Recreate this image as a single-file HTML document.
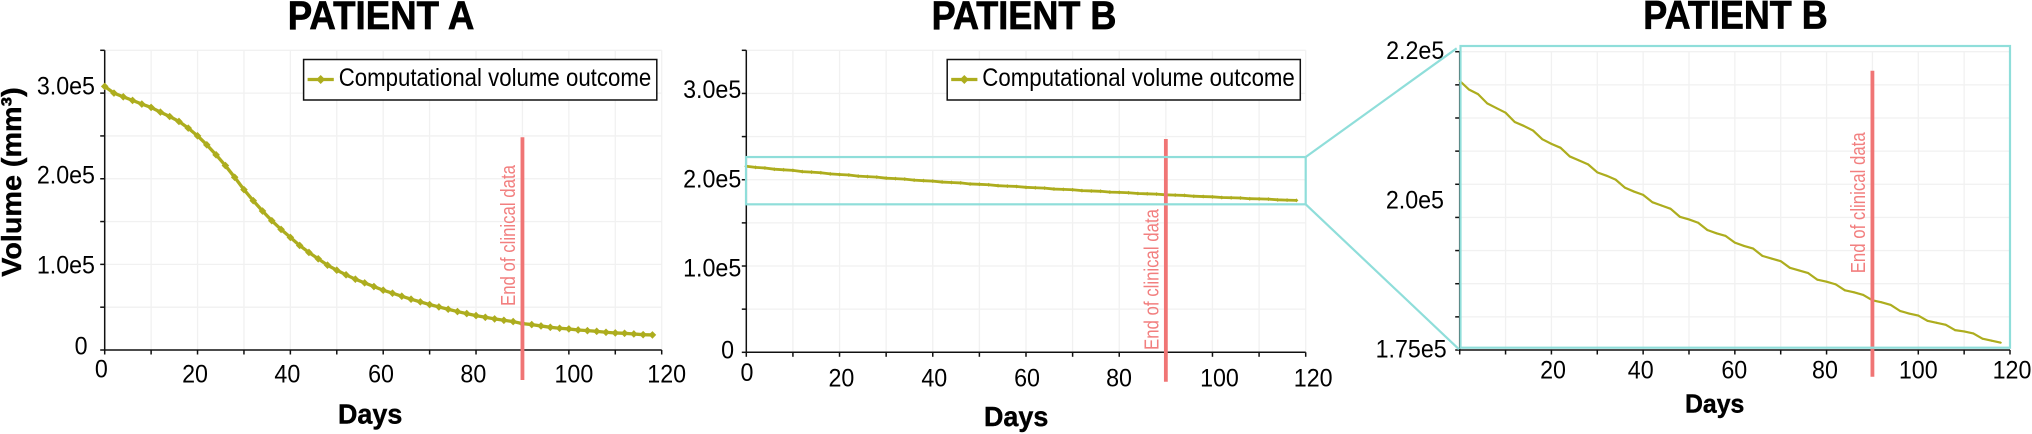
<!DOCTYPE html>
<html lang="en">
<head>
<meta charset="utf-8">
<title>Patient volume charts</title>
<style>
html,body{margin:0;padding:0;background:#fff;}
svg{display:block;font-family:"Liberation Sans",sans-serif;}
</style>
</head>
<body>
<svg id="figure" xmlns="http://www.w3.org/2000/svg" width="2032" height="434" viewBox="0 0 2032 434">
<rect x="0" y="0" width="2032" height="434" fill="#fff"/>
</svg>
<script>
const days = [0,2,4,6,8,10,12,14,16,18,20,22,24,26,28,30,32,34,36,38,40,42,44,46,48,50,52,54,56,58,60,62,64,66,68,70,72,74,76,78,80,82,84,86,88,90,92,94,96,98,100,102,104,106,108,110,112,114,116,118];
const volumeA = [307800,300000,295700,291500,287200,283300,277800,272700,266900,259100,250100,239600,227900,215400,201700,187300,174400,162300,151000,140800,131500,122100,113900,106500,99100,93200,87800,82700,78400,74100,69800,66300,62800,59300,56200,53100,50300,47600,44900,42500,40200,38200,36300,34700,33200,30800,29700,28100,26500,25400,24600,23400,22600,21800,20700,19900,19500,18700,17900,17600];
const volumeB = [215600,214300,213600,212200,211500,210800,209400,208800,208100,206800,206100,205500,204200,203600,203000,201800,201300,200700,199500,198900,198400,197300,196800,196300,195100,194700,194200,193100,192600,192200,191200,190700,190300,189200,188800,188400,187400,187000,186600,185600,185300,184900,184000,183700,183300,182500,182200,181800,180900,180500,180200,179400,179100,178800,178000,177800,177500,176700,176400,176100];
const xTicks = [0,10,20,30,40,50,60,70,80,90,100,110,120];
const xLabelValues = [0,20,40,60,80,100,120];
const xLabelText = ["0","20","40","60","80","100","120"];
const xLabelValuesZoom = [20,40,60,80,100,120];
const xLabelTextZoom = ["20","40","60","80","100","120"];
const yTicks = [0,50000,100000,150000,200000,250000,300000,350000];
const yLabelValues = [0,100000,200000,300000];
const yLabelText = ["0","1.0e5","2.0e5","3.0e5"];
const yTicksZoom = [175000,180000,185000,190000,195000,200000,205000,210000,215000,220000];
const yLabelValuesZoom = [175000,200000,220000];
const yLabelTextZoom = ["1.75e5","2.0e5","2.2e5"];
const endOfClinicalDay = 90;
const zoomWindow = [171500,226300];

const OLIVE = "#adad1e", RED = "#f07575", CYAN = "#8fdeda", GRID = "#f1f1f1";
const svg = document.getElementById("figure");
const NS = "http://www.w3.org/2000/svg";

function mk(tag, attrs, parent, text) {
  const el = document.createElementNS(NS, tag);
  for (const k in attrs) el.setAttribute(k, attrs[k]);
  if (text !== undefined) el.textContent = text;
  parent.appendChild(el);
  return el;
}

/* Narrow the tick text so taller glyphs keep the reference's label width. */
function condense(el, ratio) {
  el.setAttribute("textLength", (el.getComputedTextLength() * ratio).toFixed(2));
  el.setAttribute("lengthAdjust", "spacingAndGlyphs");
}

function drawPanel(cfg) {
  const g = mk("g", {}, svg);
  
  
  const sx = d => cfg.x0 + (d - cfg.xMin) / (cfg.xMax - cfg.xMin) * (cfg.x1 - cfg.x0);
  const sy = v => cfg.y0 + (v - cfg.vMin) / (cfg.vMax - cfg.vMin) * (cfg.y1 - cfg.y0);

  cfg.xTicks.forEach(t => {
    if (t === 0) return;
    const l = mk("line", {x1:sx(t), x2:sx(t), y1:cfg.y1, y2:cfg.y0, stroke:GRID, "stroke-width":1.3}, g);
    
    
  });
  cfg.yTicks.forEach(t => {
    if (t === cfg.vMin) return;
    const l = mk("line", {x1:cfg.x0, x2:cfg.x1, y1:sy(t), y2:sy(t), stroke:GRID, "stroke-width":1.3}, g);
    
    
  });

  const xAxis = mk("line", {x1:cfg.x0, x2:cfg.x1, y1:cfg.y0, y2:cfg.y0, stroke:"#111", "stroke-width":1.5}, g);
  
  
  const yAxis = mk("line", {x1:cfg.x0, x2:cfg.x0, y1:cfg.y1, y2:cfg.y0, stroke:"#111", "stroke-width":1.5}, g);
  
  

  cfg.xTicks.forEach(t => {
    const l = mk("line", {x1:sx(t), x2:sx(t), y1:cfg.y0, y2:cfg.y0 + 4.5, stroke:"#111", "stroke-width":1.5}, g);
    
    
  });
  cfg.yTicks.forEach(t => {
    const l = mk("line", {x1:cfg.x0 - 4.5, x2:cfg.x0, y1:sy(t), y2:sy(t), stroke:"#111", "stroke-width":1.5}, g);
    
    
  });

  cfg.xLabels.forEach((v, i) => {
    const t = mk("text", {x:sx(v) + cfg.xLabelDx[i], y:cfg.xLabelY[i], "text-anchor":"middle", "font-size":25, fill:"#000"}, g, cfg.xLabelText[i]);
    
    
    condense(t, 0.93);
  });
  cfg.yLabels.forEach((v, i) => {
    const t = mk("text", {x:cfg.yLabelX[i], y:sy(v) + cfg.yLabelDy[i], "text-anchor":"end", "font-size":25, fill:"#000"}, g, cfg.yLabelText[i]);
    
    
    condense(t, 0.93);
  });

  const pts = days.map((d, i) => [sx(d), sy(cfg.values[i])]);
  const line = mk("polyline", {points:pts.map(p => p[0].toFixed(2) + "," + p[1].toFixed(2)).join(" "), fill:"none", stroke:OLIVE, "stroke-width":cfg.lineW, "stroke-linejoin":"round"}, g);
  
  
  pts.forEach(p => {
    const r = cfg.marker;
    const m = mk("polygon", {points:`${p[0]},${p[1]-r} ${p[0]+r},${p[1]} ${p[0]},${p[1]+r} ${p[0]-r},${p[1]}`, fill:OLIVE}, g);
    
    
  });

  const marker = mk("line", {x1:sx(endOfClinicalDay), x2:sx(endOfClinicalDay), y1:cfg.redTop, y2:cfg.redBottom, stroke:RED, "stroke-width":3.8}, g);
  
  
  const redLabel = mk("text", {transform:`translate(${sx(endOfClinicalDay) - 7.6},${cfg.redLabelY}) rotate(-90)`, "font-size":20, fill:"#f27f7f", textLength:141, lengthAdjust:"spacingAndGlyphs"}, g, "End of clinical data");
  
  

  const title = mk("text", {x:cfg.titleX, y:cfg.titleY, "font-size":40, "font-weight":"bold", fill:"#000", stroke:"#000", "stroke-width":0.7, textLength:cfg.titleW, lengthAdjust:"spacingAndGlyphs"}, g, cfg.title);
  
  
  const xTitle = mk("text", {x:cfg.xTitleX, y:cfg.xTitleY, "font-size":cfg.xTitleSize, "font-weight":"bold", fill:"#000", stroke:"#000", "stroke-width":0.4, textLength:cfg.xTitleW, lengthAdjust:"spacingAndGlyphs"}, g, "Days");
  
  

  if (cfg.legendX !== undefined) {
    const lg = mk("g", {}, g);
    
    
    const box = mk("rect", {x:cfg.legendX, y:59.5, width:cfg.legendW, height:40.5, fill:"#fff", stroke:"#111", "stroke-width":1.5}, lg);
    
    
    const lx = cfg.legendX + 4;
    const swatch = mk("line", {x1:lx, x2:lx + 26.2, y1:79.5, y2:79.5, stroke:OLIVE, "stroke-width":3.2}, lg);
    
    
    const cx = lx + 13.1;
    const dia = mk("polygon", {points:`${cx},75 ${cx+4.5},79.5 ${cx},84 ${cx-4.5},79.5`, fill:OLIVE}, lg);
    
    
    const lt = mk("text", {x:cfg.legendX + 35.1, y:86, "font-size":25, fill:"#000", textLength:312.5, lengthAdjust:"spacingAndGlyphs"}, lg, "Computational volume outcome");
    
    
  }
  return {sx, sy};
}

drawPanel({
  name:"patient-a-panel", title:"PATIENT A", values:volumeA,
  x0:104.7, x1:661.7, y0:350, y1:50.3, xMin:0, xMax:120, vMin:0, vMax:350000,
  xTicks:xTicks, yTicks:yTicks,
  xLabels:xLabelValues, xLabelText:xLabelText,
  xLabelDx:[-3.4,-2.5,-3,-2.2,-2.7,5,5], xLabelY:[377.7,382.7,382.7,382.7,382.7,382.7,382.7],
  yLabels:yLabelValues, yLabelText:yLabelText,
  yLabelX:[87.5,95,95,95], yLabelDy:[4.3,9,4.6,1.2],
  lineW:3.3, marker:3.8, redTop:137.3, redBottom:380, redLabelY:306,
  titleX:287.7, titleY:29, titleW:186.6,
  xTitleX:338, xTitleY:423.3, xTitleW:64.3, xTitleSize:28,
  legendX:303.6, legendW:353.2
});

const panelB = drawPanel({
  name:"patient-b-panel", title:"PATIENT B", values:volumeB,
  x0:746.3, x1:1305.7, y0:352.3, y1:50.3, xMin:0, xMax:120, vMin:0, vMax:350000,
  xTicks:xTicks, yTicks:yTicks,
  xLabels:xLabelValues, xLabelText:xLabelText,
  xLabelDx:[0.7,1.9,1.5,1,-0.2,7,7.5], xLabelY:[381,386.3,386.3,386.3,386.3,386.3,386.3],
  yLabels:yLabelValues, yLabelText:yLabelText,
  yLabelX:[734,741.3,741.3,741.3], yLabelDy:[6,10.7,8,4.6],
  lineW:2.8, marker:2, redTop:139, redBottom:381.7, redLabelY:350,
  titleX:931.6, titleY:29, titleW:184.8,
  xTitleX:984, xTitleY:426, xTitleW:64.3, xTitleSize:28,
  legendX:947.2, legendW:353.1
});

const zoomRect = mk("rect", {x:746, y:panelB.sy(zoomWindow[1]), width:1305.7-746, height:panelB.sy(zoomWindow[0])-panelB.sy(zoomWindow[1]), fill:"none", stroke:CYAN, "stroke-width":2.2}, svg);



drawPanel({
  name:"patient-b-zoom-panel", title:"PATIENT B", values:volumeB,
  x0:1459.7, x1:2010, y0:350, y1:51.7, xMin:0, xMax:120, vMin:175000, vMax:220000,
  xTicks:xTicks, yTicks:yTicksZoom,
  xLabels:xLabelValuesZoom, xLabelText:xLabelTextZoom,
  xLabelDx:[1.6,-2.4,-0.6,-1.6,0,2], xLabelY:[378.3,378.3,378.3,378.3,378.3,378.3],
  yLabels:yLabelValuesZoom, yLabelText:yLabelTextZoom,
  yLabelX:[1446.7,1444,1444.3], yLabelDy:[7.3,24,7.3],
  lineW:2.2, marker:1.2, redTop:70.7, redBottom:376.7, redLabelY:273.3,
  titleX:1643.3, titleY:28.3, titleW:184.4,
  xTitleX:1685, xTitleY:412.7, xTitleW:59.3, xTitleSize:26
});

const zoomFrame = mk("rect", {x:1460.5, y:46, width:549.5, height:301.7, fill:"none", stroke:CYAN, "stroke-width":2.2}, svg);


const connectorTop = mk("line", {x1:1305.7, y1:panelB.sy(zoomWindow[1]), x2:1456.7, y2:48.3, stroke:CYAN, "stroke-width":2.2}, svg);


const connectorBottom = mk("line", {x1:1305.7, y1:panelB.sy(zoomWindow[0]), x2:1459, y2:349.3, stroke:CYAN, "stroke-width":2.2}, svg);



const yTitle = mk("text", {transform:"translate(21,276.7) rotate(-90)", "font-size":28, "font-weight":"bold", fill:"#000", stroke:"#000", "stroke-width":0.4, textLength:189.4, lengthAdjust:"spacingAndGlyphs"}, svg, "Volume (mm³)");


</script>
</body>
</html>
